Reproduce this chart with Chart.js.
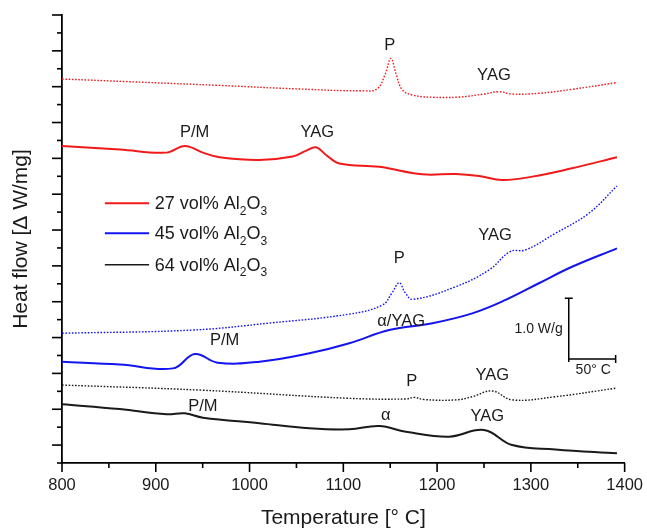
<!DOCTYPE html>
<html><head><meta charset="utf-8">
<script src="https://cdn.jsdelivr.net/npm/chart.js@4.4.1/dist/chart.umd.min.js"></script>
<style>html,body{margin:0;padding:0;background:#fff;}canvas{display:block;}</style>
</head><body>
<canvas id="c" width="647" height="531"></canvas>
<script>
// ---- data ----
const seriesNames = ['27 vol% Al_2O_3', '45 vol% Al_2O_3', '64 vol% Al_2O_3'];
const xTickLabels = [800, 900, 1000, 1100, 1200, 1300, 1400];

// 27 vol% (red) – dotted (upper) trace
const red27DotT = [800, 968, 1053, 1120, 1136, 1144.7, 1150.7, 1156.3, 1163, 1175, 1195, 1223.4, 1250, 1266, 1279.8, 1308.5, 1343.6, 1390.4];
const red27DotV = [21.43, 21.07, 20.87, 20.77, 20.88, 21.7, 22.58, 21.7, 20.82, 20.52, 20.41, 20.42, 20.59, 20.72, 20.59, 20.63, 20.85, 21.22];
// 27 vol% (red) – solid trace
const red27T = [800, 861.7, 911.4, 931, 950.3, 968, 1010.6, 1046, 1060, 1071, 1081.6, 1095.7, 1138.3, 1184.4, 1219.9, 1244.7, 1269.5, 1301.4, 1343.9, 1391.8];
const red27V = [17.69, 17.49, 17.32, 17.69, 17.32, 17.06, 16.91, 17.1, 17.42, 17.62, 17.19, 16.71, 16.53, 16.11, 16.13, 16.02, 15.79, 15.98, 16.45, 17.06];
// 45 vol% (blue) – dotted trace
const blue45DotT = [800, 939.7, 1021.3, 1106.4, 1141.8, 1152, 1159.6, 1166, 1174, 1219.9, 1255.3, 1278, 1294.3, 1326.2, 1361.7, 1391.8];
const blue45DotV = [7.24, 7.42, 7.81, 8.31, 8.82, 9.5, 10.06, 9.5, 9.13, 9.84, 10.77, 11.8, 11.89, 12.82, 13.93, 15.46];
// 45 vol% (blue) – solid trace
const blue45T = [800, 861.7, 918.4, 941.5, 966, 1010.6, 1063.8, 1106.4, 1148.9, 1195, 1237.5, 1273.1, 1308.5, 1343.9, 1391.8];
const blue45V = [5.65, 5.5, 5.28, 6.08, 5.6, 5.65, 6.12, 6.68, 7.42, 7.8, 8.35, 9.1, 10.03, 10.95, 11.98];
// 64 vol% (black) – dotted trace
const black64DotT = [800, 946.8, 1106.4, 1166.7, 1175.5, 1186.2, 1219.9, 1237.5, 1258.8, 1280.1, 1326.2, 1390];
const black64DotV = [4.35, 4.07, 3.61, 3.57, 3.66, 3.54, 3.52, 3.7, 4.02, 3.52, 3.7, 4.17];
// 64 vol% (black) – solid trace
const black64T = [800, 861.7, 911.4, 930.9, 950.3, 1010.6, 1063.8, 1106.4, 1138.3, 1166.7, 1212.8, 1250, 1280.1, 1326.2, 1391.8];
const black64V = [3.28, 3.01, 2.72, 2.77, 2.53, 2.22, 1.94, 1.88, 2.06, 1.75, 1.47, 1.84, 1.0, 0.76, 0.54];

// peak annotations
const annoText = ['P', 'YAG', 'P/M', 'YAG', 'P', 'YAG', '\u03b1/YAG', 'P/M', 'P', 'YAG', 'P/M', '\u03b1', 'YAG'];
const annoT    = [1149.6, 1260.6, 941.5, 1072.3, 1159.6, 1261.7, 1161.7, 973.4, 1173, 1258.8, 950.3, 1145.3, 1253.5];
const annoV    = [23.3, 21.65, 18.42, 18.42, 11.44, 12.72, 7.89, 6.86, 4.54, 4.91, 3.14, 2.68, 2.58];

// scale bar: 1.0 W/g vertical, 50 °C horizontal
const barT = 1340.4, barV = 5.80, barHeightV = 3.40, barWidthT = 50;
const barLabels = ['1.0 W/g', '50\u00b0 C'];

const RED = '#f01a1a', BLUE = '#1414f0', BLACK = '#1a1a1a';
const FONT = "'Liberation Sans', Arial, sans-serif";

function pts(T, V) { return T.map((t, i) => ({x: t, y: V[i]})); }
function ds(label, T, V, color, dotted) {
  return {
    label, data: pts(T, V), borderColor: color, backgroundColor: color,
    borderWidth: dotted ? 1.4 : 2, borderDash: dotted ? [1.6, 1.6] : [],
    pointRadius: 0, tension: 0.4, fill: false
  };
}

function drawRich(ctx, str, x, y, size, color) {
  // "_d" renders d as subscript
  ctx.fillStyle = color;
  ctx.textBaseline = 'middle';
  ctx.textAlign = 'left';
  let i = 0;
  while (i < str.length) {
    if (str[i] === '_') {
      ctx.font = `${Math.round(size * 0.68)}px ${FONT}`;
      ctx.fillText(str[i + 1], x, y + size * 0.4);
      x += ctx.measureText(str[i + 1]).width;
      i += 2;
    } else {
      let j = i;
      while (j < str.length && str[j] !== '_') j++;
      const s = str.slice(i, j);
      ctx.font = `${size}px ${FONT}`;
      ctx.fillText(s, x, y);
      x += ctx.measureText(s).width;
      i = j;
    }
  }
}

const decor = {
  id: 'decor',
  afterDraw(chart) {
    const {ctx} = chart;
    const xs = chart.scales.x, ys = chart.scales.y;
    const area = chart.chartArea;
    ctx.save();
    ctx.strokeStyle = '#000';
    ctx.lineWidth = 1.6;
    // x ticks (major 100, minor 50)
    for (let t = 800; t <= 1400; t += 50) {
      const px = xs.getPixelForValue(t);
      const len = t % 100 === 0 ? 9 : 5;
      ctx.beginPath(); ctx.moveTo(px, area.bottom); ctx.lineTo(px, area.bottom + len); ctx.stroke();
    }
    // y ticks (major odd, minor even)
    for (let v = 0; v <= 25; v++) {
      const py = ys.getPixelForValue(v);
      const len = v % 2 === 1 ? 10 : 5;
      ctx.beginPath(); ctx.moveTo(area.left - len, py); ctx.lineTo(area.left, py); ctx.stroke();
    }
    // annotations
    ctx.fillStyle = '#1a1a1a';
    ctx.font = `16.5px ${FONT}`;
    ctx.textAlign = 'center'; ctx.textBaseline = 'middle';
    annoText.forEach((s, i) => {
      ctx.fillText(s, xs.getPixelForValue(annoT[i]), ys.getPixelForValue(annoV[i]));
    });
    // scale bar
    const bx = xs.getPixelForValue(barT), by0 = ys.getPixelForValue(barV), by1 = ys.getPixelForValue(barV + barHeightV);
    const bx1 = xs.getPixelForValue(barT + barWidthT);
    ctx.lineWidth = 1.5;
    ctx.beginPath();
    ctx.moveTo(bx, by1); ctx.lineTo(bx, by0 + 3);
    ctx.moveTo(bx - 4, by1); ctx.lineTo(bx + 4, by1);
    ctx.moveTo(bx, by0); ctx.lineTo(bx1, by0);
    ctx.moveTo(bx1, by0 - 4); ctx.lineTo(bx1, by0 + 4);
    ctx.stroke();
    ctx.font = `14px ${FONT}`;
    ctx.textAlign = 'right';
    ctx.fillText(barLabels[0], bx - 6, (by0 + by1) / 2 + 1);
    ctx.textAlign = 'center';
    ctx.fillText(barLabels[1], (bx + bx1) / 2 + 1, by0 + 11);
    // legend
    const colors = [RED, BLUE, BLACK];
    const widths = [2, 2, 1.5];
    const lx0 = xs.getPixelForValue(845.7), lx1 = xs.getPixelForValue(892.9), ltx = xs.getPixelForValue(898.9);
    const lyv = [14.5, 12.82, 11.07];
    seriesNames.forEach((n, i) => {
      const ly = ys.getPixelForValue(lyv[i]);
      ctx.strokeStyle = colors[i]; ctx.lineWidth = widths[i];
      ctx.beginPath(); ctx.moveTo(lx0, ly); ctx.lineTo(lx1, ly); ctx.stroke();
      drawRich(ctx, n, ltx, ly + 1, 18, '#1a1a1a');
    });
    ctx.restore();
  }
};

new Chart(document.getElementById('c'), {
  type: 'line',
  data: {
    datasets: [
      ds(seriesNames[0], red27DotT, red27DotV, RED, true),
      ds(seriesNames[0], red27T, red27V, RED, false),
      ds(seriesNames[1], blue45DotT, blue45DotV, BLUE, true),
      ds(seriesNames[1], blue45T, blue45V, BLUE, false),
      ds(seriesNames[2], black64DotT, black64DotV, BLACK, true),
      ds(seriesNames[2], black64T, black64V, BLACK, false)
    ]
  },
  options: {
    responsive: false, animation: false, devicePixelRatio: 1,
    layout: {padding: {top: 15, right: 21, left: 0, bottom: 0}},
    plugins: {legend: {display: false}, tooltip: {enabled: false}},
    scales: {
      x: {
        type: 'linear', min: 800, max: 1400, position: 'bottom',
        afterFit(s) { s.height = 68; },
        ticks: {stepSize: 50, autoSkip: false, maxRotation: 0, padding: 4,
          color: '#1a1a1a', font: {family: FONT, size: 16.5},
          callback: v => xTickLabels.includes(v) ? String(v) : ''},
        grid: {display: true, drawOnChartArea: false, drawTicks: true, tickLength: 9, color: 'rgba(0,0,0,0)'},
        border: {display: true, color: '#000', width: 1.8},
        title: {display: true, text: 'Temperature [\u00b0 C]', color: '#1a1a1a',
          font: {family: FONT, size: 21}, padding: {top: 0, bottom: 0}}
      },
      y: {
        type: 'linear', min: 0, max: 25,
        afterFit(s) { s.width = 62; },
        ticks: {display: false, stepSize: 1},
        grid: {display: false},
        border: {display: true, color: '#000', width: 1.8},
        title: {display: true, text: 'Heat flow [\u0394 W/mg]', color: '#1a1a1a',
          font: {family: FONT, size: 21}, padding: {top: 9, bottom: 0}}
      }
    }
  },
  plugins: [decor]
});
</script>
</body></html>
